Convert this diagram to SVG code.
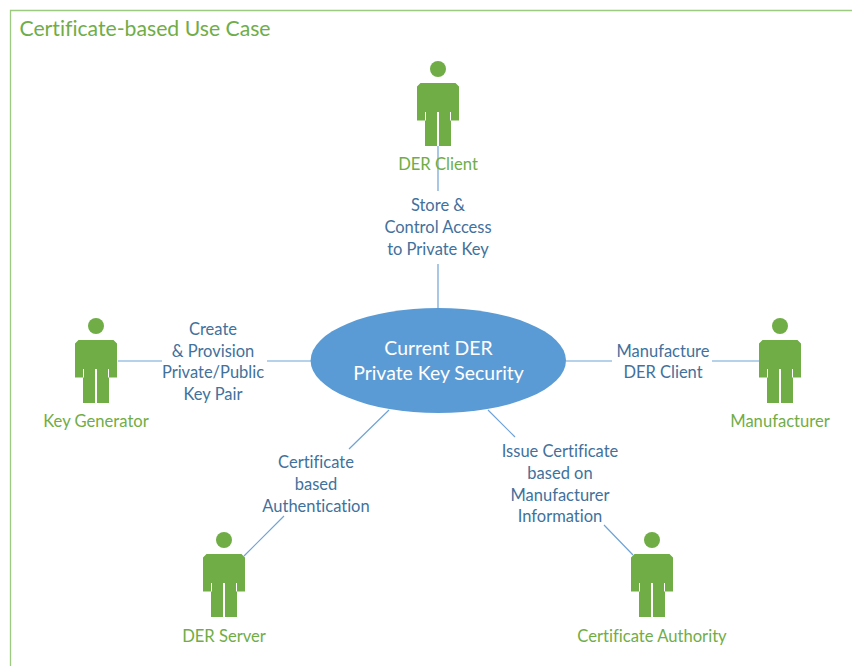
<svg xmlns="http://www.w3.org/2000/svg" width="852" height="666" viewBox="0 0 852 666">
<style>
text{font-family:Lato,"Open Sans","Liberation Sans",sans-serif;text-anchor:middle;font-variant-ligatures:none}
.f{fill:none;stroke:#9ccb7f;stroke-width:1.3}
.c{fill:none;stroke:#6fa3d6;stroke-width:1.2}
.a{fill:#70ad47}
.n{font-size:16.600px;fill:#70ad47}
.l{font-size:16.500px;fill:#41719c}
.m{font-size:19.400px;fill:#fff}
</style>
<defs>
<g id="actor">
<circle class="a" cx="0" cy="-77" r="8"/>
<path class="a" d="M-17.500-63H17.500L21-59.500V-25.500H13V0H1V-34H-1V0H-13V-25.500H-21V-59.500Z"/>
<path d="M-12.500-34V-25.500M12.500-34V-25.500" stroke="#fff" stroke-width="1" fill="none"/>
</g>
</defs>
<rect width="852" height="666" fill="#fff"/>
<path class="f" d="M852 10.500H10.500V666"/>
<text x="145" y="35.500" style="font-size:21.200px;fill:#70ad47">Certificate-based Use Case</text>
<g id="connectors">
<path class="c" d="M438 146V191M438 264V308M118 361H162M267 361H311M566 361H612M712 361H759M389 410L349 449M284 516L244 556M488 410L515 437M604 525L633 555"/>
</g>
<g id="center"><ellipse cx="438.300" cy="360.500" rx="127.700" ry="52.500" fill="#5b9bd5"/>
<text class="m" x="438.500" y="354.500">Current DER</text><text class="m" x="438.500" y="380">Private Key Security</text></g>
<g id="der-client"><use href="#actor" x="438" y="146"/><text class="n" x="438" y="169.700">DER Client</text></g>
<g id="key-generator"><use href="#actor" x="96" y="403"/><text class="n" x="96" y="426.700">Key Generator</text></g>
<g id="manufacturer"><use href="#actor" x="780" y="403"/><text class="n" x="780" y="426.700">Manufacturer</text></g>
<g id="der-server"><use href="#actor" x="224" y="617"/><text class="n" x="224" y="641.700">DER Server</text></g>
<g id="certificate-authority"><use href="#actor" x="652" y="617"/><text class="n" x="652" y="641.700">Certificate Authority</text></g>
<g id="labels" transform="translate(0 .7)">
<text class="l" x="438" y="210">Store &amp;</text><text class="l" x="438" y="232">Control Access</text><text class="l" x="438" y="254">to Private Key</text>
<text class="l" x="213" y="334">Create</text><text class="l" x="213" y="356">&amp; Provision</text><text class="l" x="213" y="377">Private/Public</text><text class="l" x="213" y="399">Key Pair</text>
<text class="l" x="663" y="356">Manufacture</text><text class="l" x="663" y="377">DER Client</text>
<text class="l" x="316" y="467">Certificate</text><text class="l" x="316" y="489">based</text><text class="l" x="316" y="511">Authentication</text>
<text class="l" x="560" y="456">Issue Certificate</text><text class="l" x="560" y="478">based on</text><text class="l" x="560" y="500">Manufacturer</text><text class="l" x="560" y="521">Information</text>
</g>
</svg>
